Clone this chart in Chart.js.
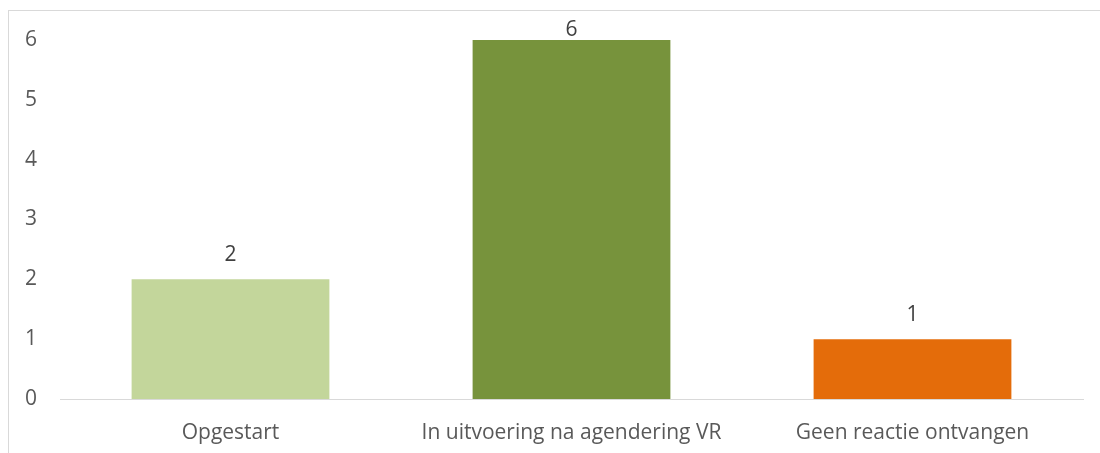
<!DOCTYPE html>
<html>
<head>
<meta charset="utf-8">
<script src="https://cdn.jsdelivr.net/npm/chart.js@4"></script>
<style>
  html, body { margin: 0; padding: 0; background: #fff; }
  #wrap { position: relative; width: 1100px; height: 453px; overflow: hidden; }
  #frame {
    position: absolute; left: 8px; top: 10px; width: 1200px; height: 600px;
    border-top: 1px solid #d9d9d9; border-left: 1px solid #d9d9d9;
  }
  canvas { position: absolute; left: 0; top: 0; }
</style>
</head>
<body>
<div id="wrap">
  <div id="frame"></div>
  <canvas id="chart" width="1100" height="453"></canvas>
</div>
<script>
// gegevens van de grafiek
const categories = ["Opgestart", "In uitvoering na agendering VR", "Geen reactie ontvangen"];
const values = [2, 6, 1];
const barColors = ["#c3d69b", "#77933c", "#e46c0a"];
const yTicks = [0, 1, 2, 3, 4, 5, 6];

const textColor = "#595959";
const fontFamily = "'Open Sans', 'Liberation Sans', sans-serif";

// labels boven de staven
const valueLabels = {
  id: "valueLabels",
  afterDatasetsDraw(chart) {
    const ctx = chart.ctx;
    const meta = chart.getDatasetMeta(0);
    ctx.save();
    ctx.fillStyle = "#404040";
    ctx.font = "21px " + fontFamily;
    ctx.textAlign = "center";
    ctx.textBaseline = "middle";
    meta.data.forEach(function (bar, i) {
      const y = Math.max(bar.y - 24, 30);
      ctx.fillText(String(values[i]), bar.x, y);
    });
    ctx.restore();
  }
};

new Chart(document.getElementById("chart"), {
  type: "bar",
  data: {
    labels: categories,
    datasets: [{
      data: values,
      backgroundColor: barColors,
      borderWidth: 0,
      barPercentage: 1,
      categoryPercentage: 0.58
    }]
  },
  options: {
    responsive: false,
    animation: false,
    layout: { padding: { left: 8, right: 17, top: 40, bottom: 8 } },
    plugins: { legend: { display: false }, tooltip: { enabled: false } },
    scales: {
      x: {
        afterFit(scale) { scale.height = 46; },
        grid: { display: false, drawTicks: false },
        border: { display: true, color: "#d9d9d9", width: 1 },
        ticks: { color: textColor, font: { family: fontFamily, size: 21 }, padding: 21, maxRotation: 0 }
      },
      y: {
        min: 0,
        max: 6,
        afterBuildTicks(scale) {
          scale.ticks = yTicks.map(function (v) { return { value: v }; });
        },
        afterFit(scale) { scale.width = 52; },
        grid: { display: false, drawTicks: false },
        border: { display: false },
        ticks: { color: textColor, font: { family: fontFamily, size: 21 }, padding: 23 }
      }
    }
  },
  plugins: [valueLabels]
});
</script>
</body>
</html>
